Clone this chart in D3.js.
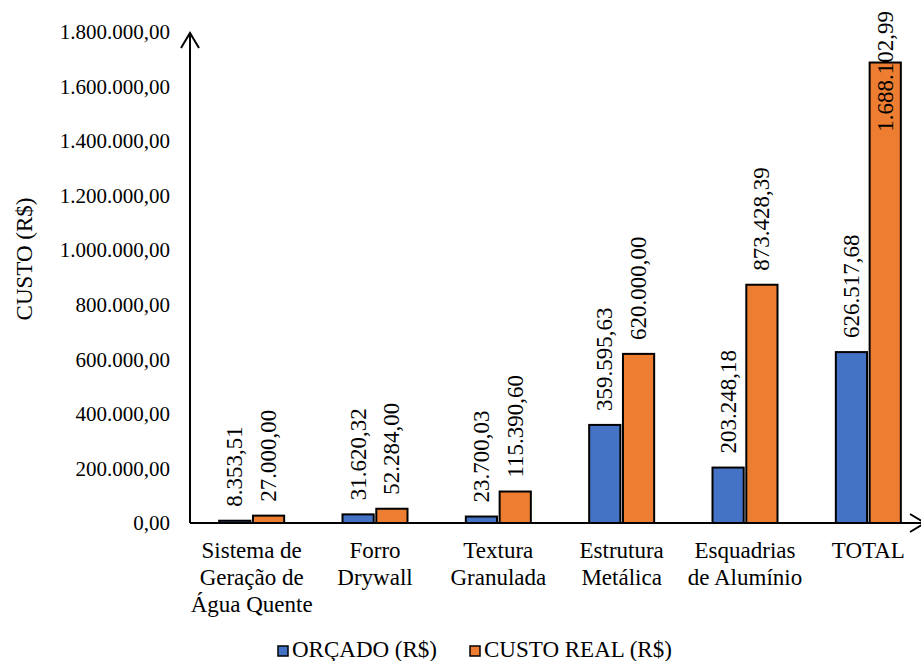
<!DOCTYPE html>
<html>
<head>
<meta charset="utf-8">
<script src="https://cdn.jsdelivr.net/npm/d3@7"></script>
<style>
  html, body { margin: 0; padding: 0; background: #fff; }
</style>
</head>
<body>
<svg id="chart" width="921" height="661"></svg>
<script>
// Categories (each entry split into its display lines)
const categories = [
  ["Sistema de", "Geração de", "Água Quente"],
  ["Forro", "Drywall"],
  ["Textura", "Granulada"],
  ["Estrutura", "Metálica"],
  ["Esquadrias", "de Alumínio"],
  ["TOTAL"]
];
const seriesNames = ["ORÇADO (R$)", "CUSTO REAL (R$)"];
const orcado = [8353.51, 31620.32, 23700.03, 359595.63, 203248.18, 626517.68];
const custoReal = [27000.00, 52284.00, 115390.60, 620000.00, 873428.39, 1688102.99];
const yTicks = [0, 200000, 400000, 600000, 800000, 1000000, 1200000, 1400000, 1600000, 1800000];
const colors = ["#4472C4", "#ED7D31"];

const FONT = "Liberation Serif";
const ptBR = d3.formatLocale({ decimal: ",", thousands: ".", grouping: [3], currency: ["R$", ""] });
const fmt = ptBR.format(",.2f");

const svg = d3.select("#chart");
const axisX = 190, baseY = 523;

const y = d3.scaleLinear().domain([0, 1800000]).range([baseY, 32]);
const catKeys = categories.map(c => c.join(" "));
const x0 = d3.scaleBand().domain(catKeys).range([axisX, 930]);
const barW = 30, barGap = 5;
const x1 = d3.scaleBand().domain([0, 1])
  .range([x0.bandwidth() / 2 - barW - barGap / 2, x0.bandwidth() / 2 + barW + barGap / 2])
  .paddingInner(barGap / (2 * barW + barGap));

// Y axis: tick labels only, line drawn separately with an arrowhead
const yAxis = d3.axisLeft(y).tickValues(yTicks).tickFormat(fmt).tickSize(0).tickPadding(20);
const gy = svg.append("g").attr("transform", `translate(${axisX},0)`).call(yAxis);
gy.select(".domain").remove();
gy.attr("font-family", null).attr("font-size", null);
gy.selectAll("text").attr("font-size", 21).attr("fill", "#000").style("font-family", FONT);

// Bars
const rows = catKeys.map((k, i) => ({ key: k, vals: [orcado[i], custoReal[i]] }));
const groups = svg.append("g").selectAll("g").data(rows).join("g")
  .attr("transform", d => `translate(${x0(d.key)},0)`);

groups.selectAll("rect").data(d => d.vals.map((v, s) => ({ v, s })))
  .join("rect")
  .attr("x", d => x1(d.s))
  .attr("width", x1.bandwidth())
  .attr("y", d => y(d.v))
  .attr("height", d => baseY - y(d.v))
  .attr("fill", d => colors[d.s])
  .attr("stroke", "#000")
  .attr("stroke-width", 2);

// Value labels, rotated, above each bar (pushed down if they would leave the chart)
groups.selectAll("text.val").data(d => d.vals.map((v, s) => ({ v, s })))
  .join("text")
  .attr("class", "val")
  .attr("font-size", 23)
  .attr("fill", "#000")
  .style("font-family", FONT)
  .attr("dominant-baseline", "central")
  .attr("text-anchor", "start")
  .text(d => fmt(d.v))
  .each(function(d) {
    const len = this.getComputedTextLength();
    let start = y(d.v) - 14;
    if (start - len < 11) start = 11 + len;
    const cx = x1(d.s) + x1.bandwidth() / 2;
    d3.select(this).attr("transform", `translate(${cx},${start}) rotate(-90)`);
  });

// Axis lines with open arrowheads
const axes = svg.append("g").attr("stroke", "#000").attr("stroke-width", 2).attr("fill", "none");
axes.append("line").attr("x1", axisX).attr("y1", baseY).attr("x2", axisX).attr("y2", 33);
axes.append("path").attr("d", `M${axisX - 9},48 L${axisX},33 L${axisX + 9},48`);
axes.append("line").attr("x1", axisX).attr("y1", baseY).attr("x2", 925).attr("y2", baseY);
axes.append("path").attr("d", `M910,${baseY - 9} L925,${baseY} L910,${baseY + 9}`);

// Category labels
const gx = svg.append("g");
rows.forEach((r, i) => {
  const cx = x0(r.key) + x0.bandwidth() / 2;
  const t = gx.append("text")
    .attr("x", cx)
    .attr("y", 558)
    .attr("text-anchor", "middle")
    .attr("font-size", 23)
    .attr("fill", "#000")
    .style("font-family", FONT);
  categories[i].forEach((line, j) => {
    t.append("tspan").attr("x", cx).attr("dy", j === 0 ? 0 : 27).text(line);
  });
});

// Y axis title
svg.append("text")
  .attr("transform", "translate(32,259) rotate(-90)")
  .attr("text-anchor", "middle")
  .attr("font-size", 23)
  .attr("fill", "#000")
  .style("font-family", FONT)
  .text("CUSTO (R$)");

// Legend
const legendX = [278, 470];
const lg = svg.append("g").selectAll("g").data(seriesNames).join("g")
  .attr("transform", (d, i) => `translate(${legendX[i]},646)`);
lg.append("rect").attr("width", 10).attr("height", 10)
  .attr("fill", (d, i) => colors[i]).attr("stroke", "#000").attr("stroke-width", 1.5);
lg.append("text").attr("x", 14).attr("y", 11).attr("font-size", 23).attr("fill", "#000")
  .style("font-family", FONT).text(d => d);
</script>
</body>
</html>
